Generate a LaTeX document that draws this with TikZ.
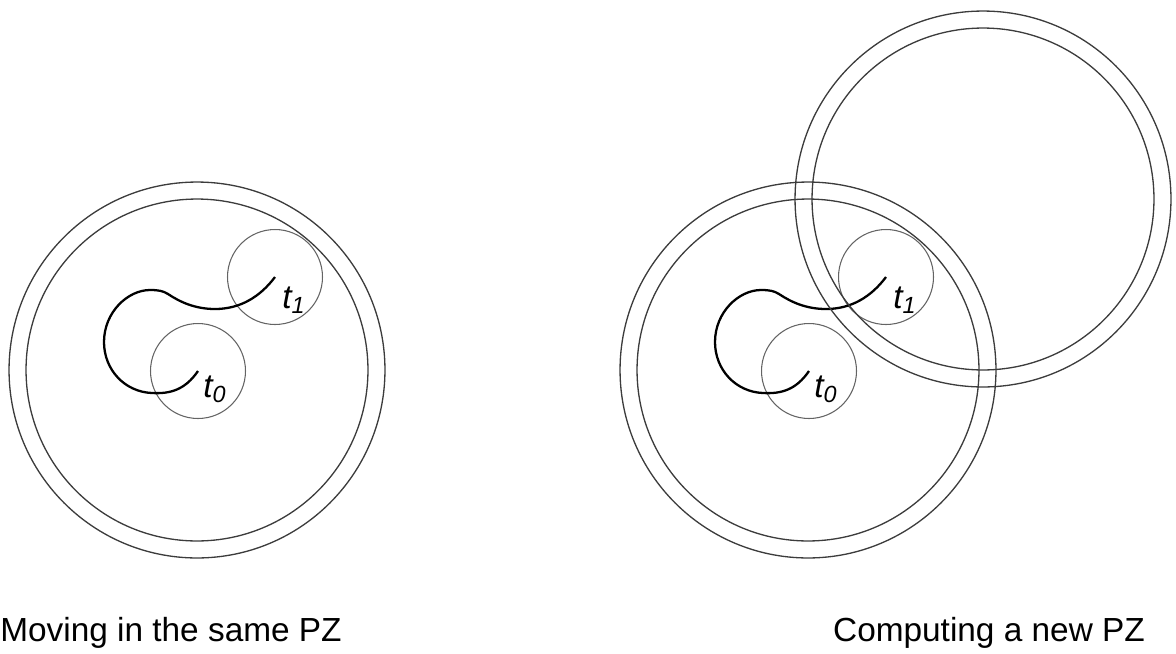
\documentclass[tikz,border=0pt]{standalone}
\usepackage{fontspec}
\setmainfont{Liberation Sans}
\usepackage{tikz}
\usetikzlibrary{positioning}
\definecolor{RingGray}{RGB}{60, 60, 60}
\definecolor{SpotGray}{RGB}{100, 100, 100}
\tikzset{
  outerzone/.style={circle, draw=RingGray, line width=0.75pt,
    inner sep=0pt, minimum size=7.52cm},
  innerzone/.style={circle, draw=RingGray, line width=0.75pt,
    inner sep=0pt, minimum size=6.84cm},
  spot/.style={circle, draw=SpotGray, line width=0.6pt,
    inner sep=0pt, minimum size=1.9cm},
  track/.style={line width=1.3pt, color=black},
  tlab/.style={inner sep=0pt, anchor=base west,
    font=\fontsize{19}{21}\selectfont\itshape},
  caption/.style={inner sep=0pt, anchor=base,
    font=\fontsize{19}{22}\selectfont},
}

\begin{document}
\begin{tikzpicture}[x=0.02cm, y=-0.02cm]
  \useasboundingbox (0,0) rectangle (1176,653);
  % same zone, trajectory and positions in both panels
  \foreach \s/\dx in {L/0, R/611}{
    \begin{scope}[shift={(\dx,0)}]
      \node[outerzone] (pz\s) at (197,370) {};
      \node[innerzone] (pzin\s) at (197,370) {};
      \node[spot] (t0\s) at (198,371) {};
      \node[spot] (t1\s) at (275,277) {};
      \draw[track] (t0\s.center)
        .. controls (185,390) and (170,394) .. (152,393)
        .. controls (125,392) and (104,370) .. (104,342)
        .. controls (104,312) and (128,290) .. (150,290)
        .. controls (159,290) and (163,291) .. (168,294)
        .. controls (180,302) and (195,309) .. (215,309)
        .. controls (240,309) and (260,297) .. (t1\s.center);
      \node[tlab] (lab0\s) at (203,397) {t\textsubscript{0}};
      \node[tlab] (lab1\s) at (282,308) {t\textsubscript{1}};
    \end{scope}
  }
  % new zone around t1
  \node[outerzone] (pznew) at (983,199) {};
  \node[innerzone] (pznewin) at (983,199) {};
  \node[caption] (capL) at (171,641) {Moving in the same PZ};
  \node[caption] (capR) at (989,641) {Computing a new PZ};
\end{tikzpicture}
\end{document}
